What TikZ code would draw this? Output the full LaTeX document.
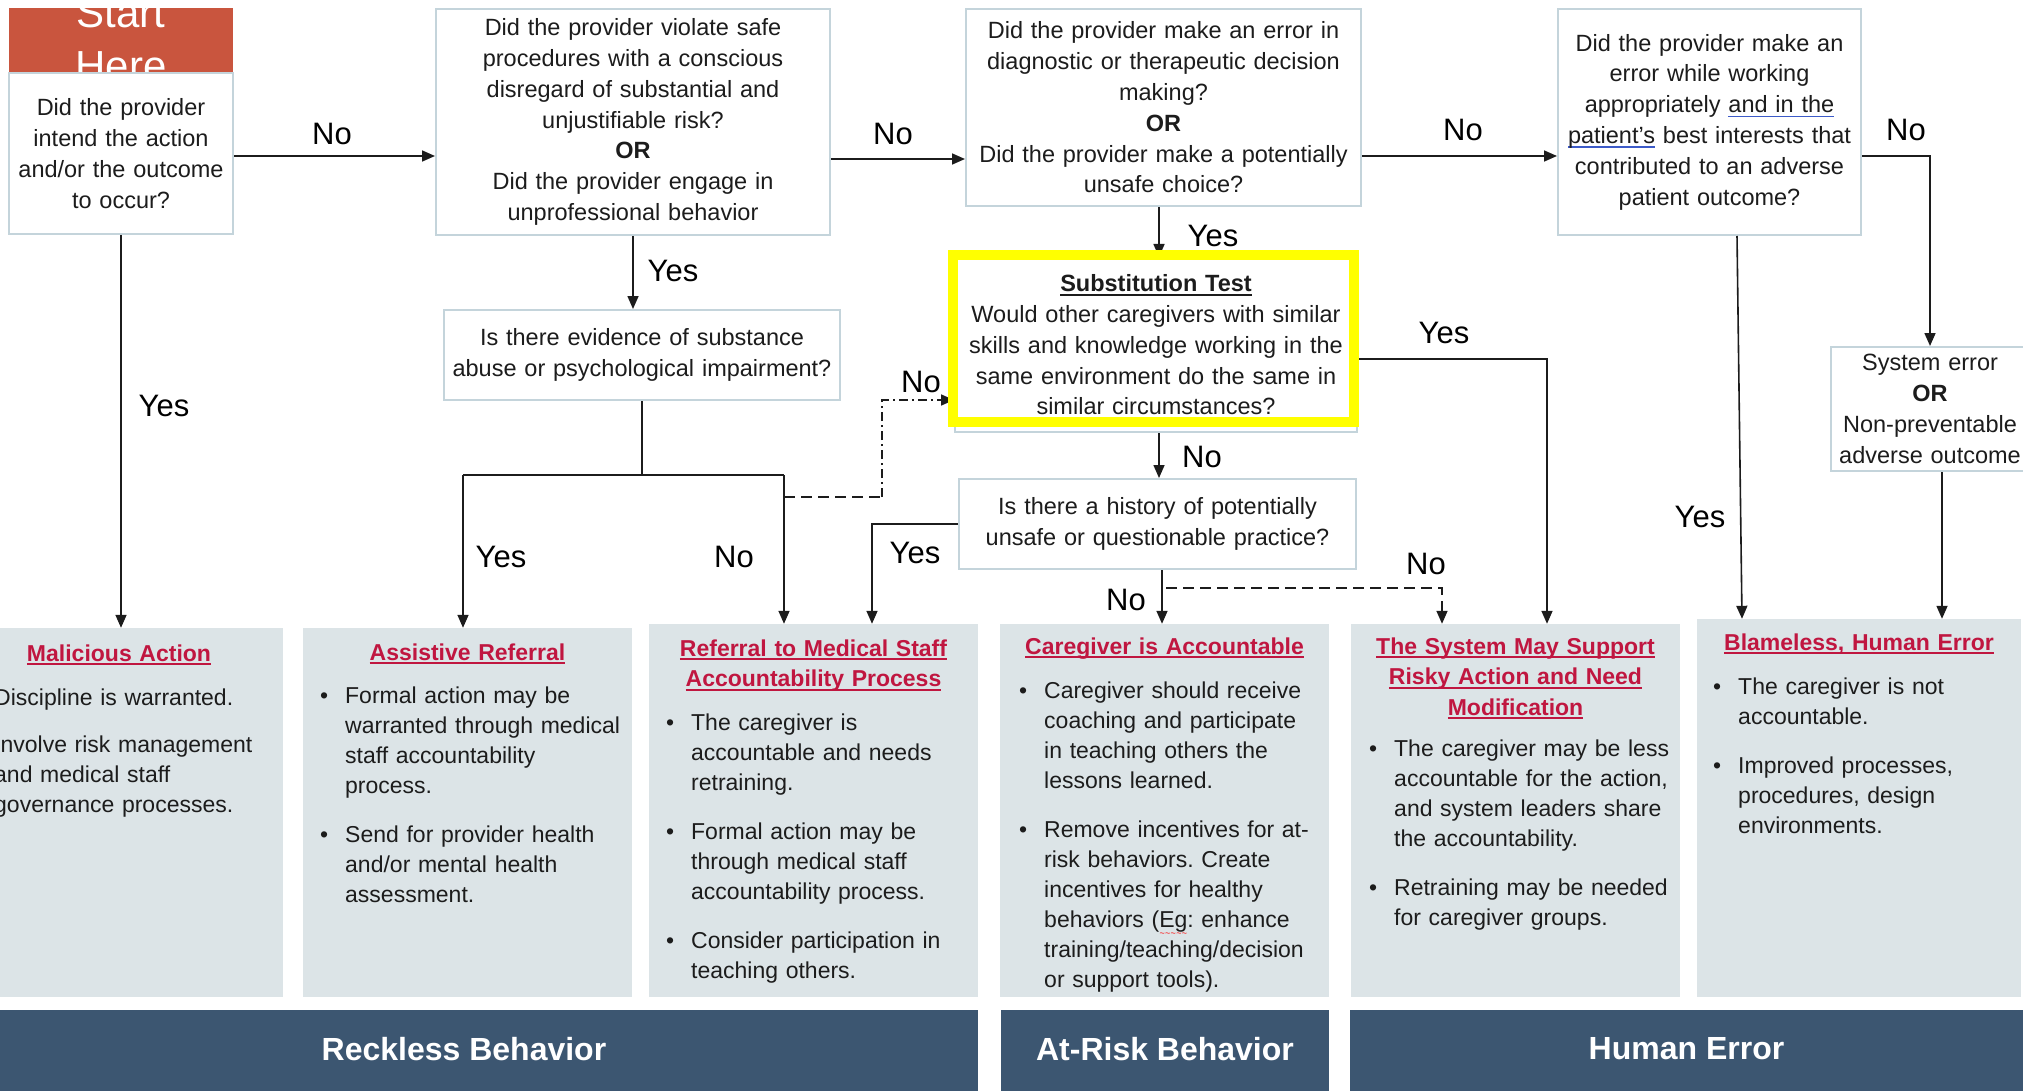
\documentclass[tikz,border=0pt]{standalone}
\usepackage{fontspec}
\setmainfont{Liberation Sans}
\usetikzlibrary{arrows.meta}
\frenchspacing

\definecolor{edgegray}{RGB}{196,212,219}
\definecolor{panelfill}{RGB}{220,228,231}
\definecolor{titlered}{RGB}{192,22,64}
\definecolor{bandblue}{RGB}{60,86,113}
\definecolor{startred}{RGB}{201,85,62}
\definecolor{inkc}{RGB}{28,28,28}
\definecolor{ulblue}{RGB}{60,90,200}
\definecolor{markyellow}{RGB}{255,255,0}

% underlines drawn as rules under a measured box
\newsavebox\ulbox
\newcommand\ulin[1]{\leavevmode\sbox\ulbox{#1}\rlap{\rule[-4pt]{\wd\ulbox}{1.6pt}}\usebox\ulbox}
\newcommand\blueul[1]{\leavevmode\sbox\ulbox{#1}\rlap{\textcolor{ulblue}{\rule[-4.5pt]{\wd\ulbox}{1.5pt}}}\usebox\ulbox}
\newcommand\redwave[1]{\leavevmode\sbox\ulbox{#1}\rlap{\textcolor{red}{\raisebox{-9pt}[0pt][0pt]{\makebox[\wd\ulbox][l]{\fontsize{9}{9}\selectfont\xleaders\hbox{\char"7E}\hfill}}}}\usebox\ulbox}

% bullet paragraphs with a hanging indent
\newlength\bulind
\setlength\bulind{25pt}
\newcommand\bitem[1]{\hangindent=\bulind\hangafter=1\noindent\makebox[\bulind][l]{\textbullet}#1\par}

\begin{document}
\begin{tikzpicture}[x=1pt,y=-1pt,
  qbox/.style={draw=edgegray, line width=2pt, fill=white, inner sep=0pt, align=center,
    text=inkc, font=\fontsize{23.5}{30.8}\selectfont},
  panel/.style={fill=panelfill, inner sep=0pt},
  band/.style={fill=bandblue, inner sep=0pt},
  bandlabel/.style={text=white, font=\fontsize{32}{36}\selectfont\bfseries, inner sep=0pt},
  ptitle/.style={anchor=base, align=center, text=titlered, inner sep=0pt,
    font=\fontsize{23}{30.5}\selectfont\bfseries, text width=320pt},
  pbody/.style={anchor=base west, align=left, text=inkc, inner sep=0pt,
    font=\fontsize{23}{30}\selectfont, text width=320pt},
  lbl/.style={text=black, font=\fontsize{31}{34}\selectfont, inner sep=0pt},
  wire/.style={draw=inkc, line width=1.6pt},
  conn/.style={wire, -{Triangle[length=13pt,width=11pt]}},
  dashwire/.style={dash pattern=on 11pt off 6pt},
  dotdashwire/.style={dash pattern=on 9pt off 4pt on 2pt off 4pt},
]
\useasboundingbox (0,0) rectangle (2023,1091);
\fill[white] (-60,-20) rectangle (2080,1110);

% ---- outcome panels ----
\node[panel, minimum width=328pt, minimum height=369pt] (pA) at (119,812.5) {};
\node[panel, minimum width=329pt, minimum height=369pt] (pB) at (467.5,812.5) {};
\node[panel, minimum width=329pt, minimum height=373pt] (pC) at (813.5,810.5) {};
\node[panel, minimum width=329pt, minimum height=373pt] (pD) at (1164.5,810.5) {};
\node[panel, minimum width=329pt, minimum height=373pt] (pE) at (1515.5,810.5) {};
\node[panel, minimum width=324pt, minimum height=378pt] (pF) at (1859,808) {};

% ---- category bands ----
\node[band, minimum width=1028pt, minimum height=85pt] (rb) at (464,1052.5) {};
\node[band, minimum width=328pt, minimum height=85pt] (ab) at (1165,1052.5) {};
\node[band, minimum width=673pt, minimum height=85pt] (hb) at (1686.5,1052.5) {};
\node[bandlabel] (rbl) at (464,1049) {Reckless Behavior};
\node[bandlabel] (abl) at (1165,1049) {At-Risk Behavior};
\node[bandlabel] (hbl) at (1686.5,1049) {Human Error};

% ---- panel titles ----
\node[ptitle] (tA) at (119,661) {\ulin{Malicious Action}};
\node[ptitle] (tB) at (467.5,660) {\ulin{Assistive Referral}};
\node[ptitle] (tC) at (813.5,656) {\ulin{Referral to Medical Staff}\\\ulin{Accountability Process}};
\node[ptitle] (tD) at (1164.5,654) {\ulin{Caregiver is Accountable}};
\node[ptitle] (tE) at (1515.5,654) {\ulin{The System May Support}\\\ulin{Risky Action and Need}\\\ulin{Modification}};
\node[ptitle] (tF) at (1859,650) {\ulin{Blameless, Human Error}};

% ---- panel texts ----
\node[pbody] (bA) at (-6,705) {\setlength\parskip{17pt}%
  Discipline is warranted.\par
  Involve risk management\newline and medical staff\newline governance processes.\par};
\node[pbody] (bB) at (320,703) {\setlength\parskip{19pt}%
  \bitem{Formal action may be\newline warranted through medical\newline staff accountability\newline process.}%
  \bitem{Send for provider health\newline and/or mental health\newline assessment.}};
\node[pbody] (bC) at (666,730) {\setlength\parskip{19pt}%
  \bitem{The caregiver is\newline accountable and needs\newline retraining.}%
  \bitem{Formal action may be\newline through medical staff\newline accountability process.}%
  \bitem{Consider participation in\newline teaching others.}};
\node[pbody] (bD) at (1019,698) {\setlength\parskip{19pt}%
  \bitem{Caregiver should receive\newline coaching and participate\newline in teaching others the\newline lessons learned.}%
  \bitem{Remove incentives for at-\newline risk behaviors. Create\newline incentives for healthy\newline behaviors (\redwave{Eg}: enhance\newline training/teaching/decision\newline or support tools).}};
\node[pbody] (bE) at (1369,756) {\setlength\parskip{19pt}%
  \bitem{The caregiver may be less\newline accountable for the action,\newline and system leaders share\newline the accountability.}%
  \bitem{Retraining may be needed\newline for caregiver groups.}};
\node[pbody] (bF) at (1713,694) {\setlength\parskip{19pt}%
  \bitem{The caregiver is not\newline accountable.}%
  \bitem{Improved processes,\newline procedures, design\newline environments.}};

% ---- start marker ----
\node[fill=startred, minimum width=224pt, minimum height=65pt, inner sep=0pt] (start) at (121,40.5) {};
\begin{scope}
  \clip (start.north west) rectangle (start.south east);
  \node[anchor=base, text=white, font=\fontsize{42}{53}\selectfont, align=center,
    text width=200pt, inner sep=0pt] (starttext) at (121,28) {Start\\Here};
\end{scope}

% ---- decision boxes ----
\node[qbox, minimum width=224pt, minimum height=161pt, text width=212pt] (q1) at (121,153.5)
  {Did the provider\\intend the action\\and/or the outcome\\to occur?};
\node[qbox, minimum width=394pt, minimum height=226pt, text width=380pt] (q2) at (633,122)
  {Did the provider violate safe\\procedures with a conscious\\disregard of substantial and\\unjustifiable risk?\\\textbf{OR}\\Did the provider engage in\\unprofessional behavior};
\node[qbox, minimum width=395pt, minimum height=197pt, text width=385pt] (q3) at (1163.5,107.5)
  {Did the provider make an error in\\diagnostic or therapeutic decision\\making?\\\textbf{OR}\\Did the provider make a potentially\\unsafe choice?};
\node[qbox, minimum width=303pt, minimum height=226pt, text width=295pt] (q4) at (1709.5,122)
  {Did the provider make an\\error while working\\appropriately \blueul{and in the}\\\blueul{patient’s} best interests that\\contributed to an adverse\\patient outcome?};
\node[qbox, minimum width=396pt, minimum height=90pt, text width=385pt] (subst) at (642,355)
  {Is there evidence of substance\\abuse or psychological impairment?};
\node[qbox, minimum width=402pt, minimum height=174pt, text width=392pt] (sub) at (1156,345)
  {\textbf{\ulin{Substitution Test}}\\Would other caregivers with similar\\skills and knowledge working in the\\same environment do the same in\\similar circumstances?};
\node[qbox, minimum width=397pt, minimum height=90pt, text width=387pt] (hist) at (1157.5,524)
  {Is there a history of potentially\\unsafe or questionable practice?};
\node[qbox, minimum width=199pt, minimum height=124pt, text width=195pt] (sys) at (1930,409)
  {System error\\\textbf{OR}\\Non-preventable\\adverse outcome};

% ---- routing coordinates ----
\coordinate (rowA) at (0,156);
\coordinate (rowB) at (0,159);
\coordinate (sL) at (463,475);
\coordinate (sR) at (784,475);
\coordinate (dA) at (784,497);
\coordinate (dB) at (882,497);
\coordinate (dC) at (0,400);
\coordinate (colM) at (1159,0);
\coordinate (rowY) at (0,359);
\coordinate (colE) at (1547,0);
\coordinate (colHY) at (872,0);
\coordinate (colHN) at (1162,0);
\coordinate (hdA) at (1166,588);
\coordinate (colHD) at (1442,0);
\coordinate (colF1) at (1737,0);
\coordinate (colF1b) at (1742,0);
\coordinate (colF2) at (1942,0);

% ---- connectors ----
\draw[conn] (q1.east |- rowA) -- (q2.west |- rowA);
\draw[conn] (q2.east |- rowB) -- (q3.west |- rowB);
\draw[conn] (q3.east |- rowA) -- (q4.west |- rowA);
\draw[conn] (q4.east |- rowA) -| (sys.north);
\draw[conn] (q1.south) -- (q1.south |- pA.north);
\draw[conn] (q2.south) -- (q2.south |- subst.north);
\draw[wire] (subst.south) -- (subst.south |- sL);
\draw[wire] (sL) -- (sR);
\draw[conn] (sL) -- (sL |- pB.north);
\draw[conn] (sR) -- (sR |- pC.north);
\draw[wire, dashwire] (dA) -- (dB);
\draw[conn, dotdashwire] (dB) |- (sub.west |- dC);
\draw[conn] (q3.south -| colM) -- (sub.north -| colM);
\draw[conn] (sub.east |- rowY) -| (colE |- pE.north);
\draw[conn] (sub.south -| colM) -- (hist.north -| colM);
\draw[conn] (hist.west) -| (colHY |- pC.north);
\draw[conn] (hist.south -| colHN) -- (colHN |- pD.north);
\draw[conn, dashwire] (hdA) -| (colHD |- pE.north);
\draw[conn] (q4.south -| colF1) -- (colF1b |- pF.north);
\draw[conn] (sys.south -| colF2) -- (colF2 |- pF.north);

% ---- highlight frame of the substitution test ----
\node[draw=markyellow, line width=10pt, minimum width=401pt, minimum height=167pt, inner sep=0pt]
  (subframe) at (1153.5,338.5) {};

% ---- branch labels ----
\node[lbl] (l1) at (332,134) {No};
\node[lbl] (l2) at (893,134) {No};
\node[lbl] (l3) at (1463,130) {No};
\node[lbl] (l4) at (1906,130) {No};
\node[lbl] (l5) at (164,406) {Yes};
\node[lbl] (l6) at (673,271) {Yes};
\node[lbl] (l7) at (1213,236) {Yes};
\node[lbl] (l8) at (1444,333) {Yes};
\node[lbl] (l9) at (921,382) {No};
\node[lbl] (l10) at (1202,457) {No};
\node[lbl] (l11) at (501,557) {Yes};
\node[lbl] (l12) at (734,557) {No};
\node[lbl] (l13) at (915,553) {Yes};
\node[lbl] (l14) at (1126,600) {No};
\node[lbl] (l15) at (1426,564) {No};
\node[lbl] (l16) at (1700,517) {Yes};
\end{tikzpicture}
\end{document}
